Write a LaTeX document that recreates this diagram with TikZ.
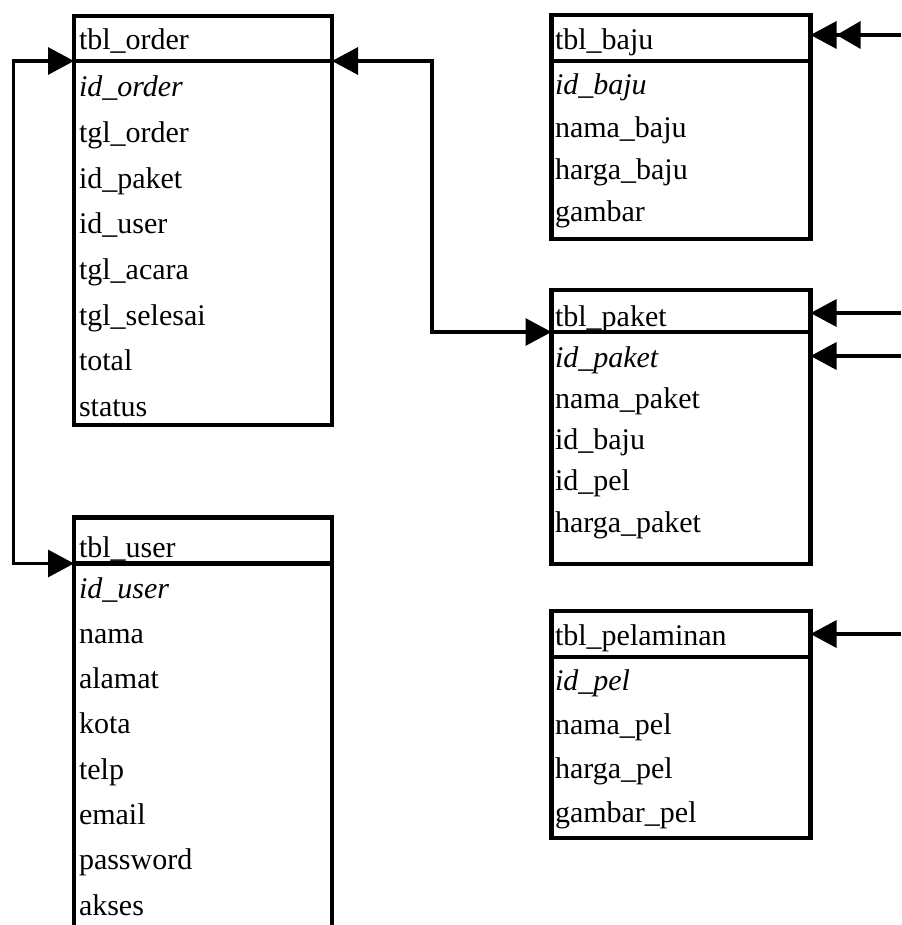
\documentclass[tikz,border=0pt]{standalone}
\usepackage{fontspec}
\setmainfont{Liberation Serif}
\usetikzlibrary{arrows.meta,calc}
\tikzset{
  tbl/.style={draw, rectangle, line width=4.5pt, outer sep=0pt, inner sep=0pt},
  txt/.style={anchor=base west, inner sep=0pt, outer sep=0pt, font=\fontsize{30pt}{36pt}\selectfont},
  conn/.style={line width=3.2pt},
  headtip/.tip={Triangle[length=26pt,width=27pt]},
}
\begin{document}
\begin{tikzpicture}[x=1pt,y=1pt]
\useasboundingbox (0,0) rectangle (901,-925);
\clip (0,0) rectangle (901,-925);

% ---------- tbl_order ----------
\node[tbl, minimum width=258pt, minimum height=45pt] (ordH) at (203,-38.5) {};
\node[tbl, minimum width=258pt, minimum height=364pt] (ordB) at (203,-243) {};
\node[txt] (ordT) at (79,-50) {tbl\_order};
\foreach \t [count=\i from 0] in {\itshape id\_order, tgl\_order, id\_paket, id\_user, tgl\_acara, tgl\_selesai, total, status}
  \node[txt] (ordR\i) at (79,{-97-45.6*\i}) {\t};

% ---------- tbl_user ----------
\node[tbl, minimum width=258pt, minimum height=46pt] (usrH) at (203,-540.5) {};
\node[tbl, minimum width=258pt, minimum height=396.5pt] (usrB) at (203,-761.75) {};
\node[txt] (usrT) at (79,-557) {tbl\_user};
\foreach \t [count=\i from 0] in {\itshape id\_user, nama, alamat, kota, telp, email, password, akses}
  \node[txt] (usrR\i) at (79,{-598-45.3*\i}) {\t};

% ---------- tbl_baju ----------
\node[tbl, minimum width=259pt, minimum height=46pt] (bajH) at (681,-38) {};
\node[tbl, minimum width=259pt, minimum height=178pt] (bajB) at (681,-150) {};
\node[txt] (bajT) at (555,-50) {tbl\_baju};
\foreach \t [count=\i from 0] in {\itshape id\_baju, nama\_baju, harga\_baju, gambar}
  \node[txt] (bajR\i) at (555,{-95-42.3*\i}) {\t};

% ---------- tbl_paket ----------
\node[tbl, minimum width=259pt, minimum height=42pt] (pakH) at (681,-311) {};
\node[tbl, minimum width=259pt, minimum height=232pt] (pakB) at (681,-448) {};
\node[txt] (pakT) at (555,-326) {tbl\_paket};
\foreach \t [count=\i from 0] in {\itshape id\_paket, nama\_paket, id\_baju, id\_pel, harga\_paket}
  \node[txt] (pakR\i) at (555,{-367-41.3*\i}) {\t};

% ---------- tbl_pelaminan ----------
\node[tbl, minimum width=259pt, minimum height=46pt] (pelH) at (681,-634) {};
\node[tbl, minimum width=259pt, minimum height=181pt] (pelB) at (681,-747.5) {};
\node[txt] (pelT) at (555,-645) {tbl\_pelaminan};
\foreach \t [count=\i from 0] in {\itshape id\_pel, nama\_pel, harga\_pel, gambar\_pel}
  \node[txt] (pelR\i) at (555,{-690-44.3*\i}) {\t};

% ---------- connectors ----------
\draw[conn, {headtip}-{headtip}] (ordH.south west) -- ++(-60.5,0) |- (usrH.south west);
\draw[conn, {headtip}-{headtip}] (ordH.south east) -- ++(100,0) |- (pakH.south west);

\coordinate (inBaju) at (901,-35);
\coordinate (inPak1) at (901,-313);
\coordinate (inPak2) at (901,-356);
\coordinate (inPel)  at (901,-634);

\draw[conn, -{Triangle[length=24pt,width=27pt,sep=0pt]Triangle[length=26pt,width=27pt,sep=0pt]}] (inBaju) -- (inBaju -| bajH.east);
\draw[conn, -{headtip}] (inPak1) -- (inPak1 -| pakH.east);
\draw[conn, -{headtip}] (inPak2) -- (inPak2 -| pakB.east);
\draw[conn, -{headtip}] (inPel) -- (inPel -| pelH.east);
\end{tikzpicture}
\end{document}
